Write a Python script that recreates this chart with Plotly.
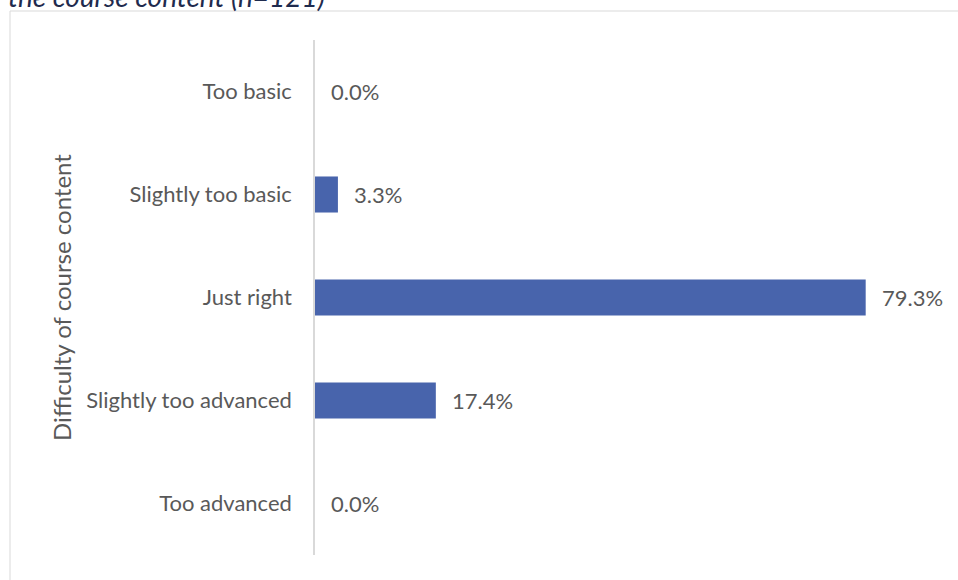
import plotly.graph_objects as go

# Survey responses: perceived difficulty of the course content
categories = ["Too basic", "Slightly too basic", "Just right",
              "Slightly too advanced", "Too advanced"]
percentages = [0.0, 3.3, 79.3, 17.4, 0.0]
value_labels = ["0.0%", "3.3%", "79.3%", "17.4%", "0.0%"]

BAR_COLOR = "#4864ac"
TEXT_COLOR = "#595959"
FONT = "Lato, Open Sans, sans-serif"

fig = go.Figure(
    go.Bar(
        x=percentages,
        y=categories,
        orientation="h",
        marker=dict(color=BAR_COLOR, line=dict(width=0)),
        width=0.35,
        hoverinfo="skip",
    )
)

# Value labels to the right of each bar
for cat, val, lab in zip(categories, percentages, value_labels):
    fig.add_annotation(
        x=val, y=cat, xref="x", yref="y",
        text=lab, showarrow=False,
        xanchor="left", yanchor="middle", xshift=14,
        font=dict(family=FONT, size=22, color=TEXT_COLOR),
    )

# Chart title (partly above the visible area)
fig.add_annotation(
    x=-0.495, y=1.049, xref="paper", yref="paper",
    text="<i>the course content (n=121)</i>", showarrow=False,
    xanchor="left", yanchor="bottom",
    font=dict(family=FONT, size=28, color="#1f2b4e"),
)

# Chart frame
fig.add_shape(
    type="rect", xref="paper", yref="paper",
    x0=-0.488, x1=2.0, y0=-1.0, y1=1.0563,
    line=dict(color="#d9d9d9", width=1), fillcolor="rgba(0,0,0,0)",
    layer="below",
)

fig.update_layout(
    width=958, height=580,
    margin=dict(l=315, r=18, t=40, b=25),
    paper_bgcolor="white", plot_bgcolor="white",
    showlegend=False,
    font=dict(family=FONT, color=TEXT_COLOR),
    xaxis=dict(range=[0, 90], visible=False, fixedrange=True),
    yaxis=dict(
        autorange="reversed",
        showline=True, linecolor="#d9d9d9", linewidth=1.5,
        showgrid=False, zeroline=False, ticks="",
        ticklabelstandoff=17,
        tickfont=dict(family=FONT, size=22, color=TEXT_COLOR),
        title=dict(text="Difficulty of course content", standoff=8,
                   font=dict(family=FONT, size=24, color=TEXT_COLOR)),
    ),
)

fig.write_html("out.html")
